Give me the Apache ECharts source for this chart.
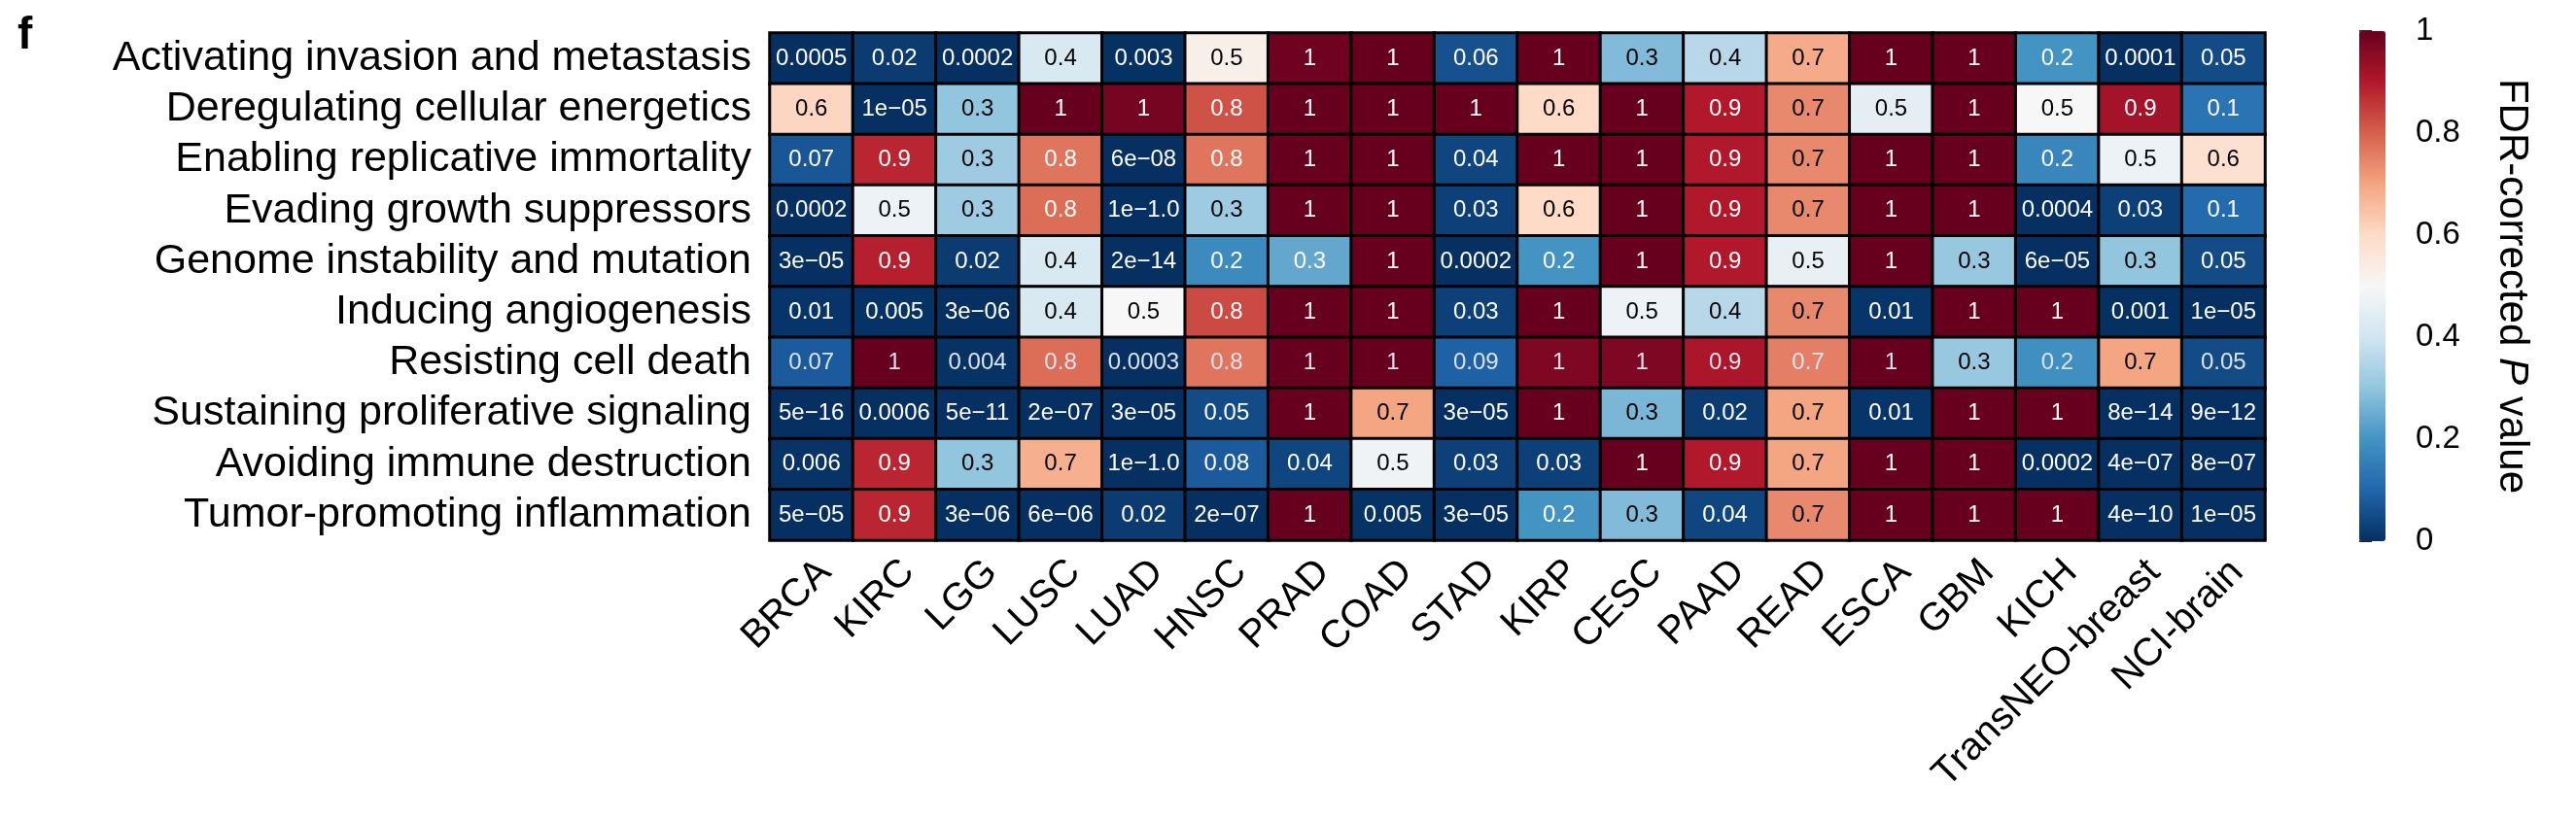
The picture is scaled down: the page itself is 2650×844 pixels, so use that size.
<!DOCTYPE html>
<html>
<head>
<meta charset="utf-8">
<script src="https://cdn.jsdelivr.net/npm/echarts@6/dist/echarts.min.js"></script>
<style>
  html, body { margin: 0; padding: 0; background: #fff; }
  #chart { width: 2650px; height: 844px; }
</style>
</head>
<body>
<div id="chart"></div>
<script>
// ---- categories ----
const cohorts = ['BRCA','KIRC','LGG','LUSC','LUAD','HNSC','PRAD','COAD','STAD','KIRP','CESC','PAAD','READ','ESCA','GBM','KICH','TransNEO-breast','NCI-brain'];
const hallmarks = ['Activating invasion and metastasis','Deregulating cellular energetics','Enabling replicative immortality','Evading growth suppressors','Genome instability and mutation','Inducing angiogenesis','Resisting cell death','Sustaining proliferative signaling','Avoiding immune destruction','Tumor-promoting inflammation'];

// ---- printed cell texts (as shown) ----
const invasionText   = ['0.0005','0.02','0.0002','0.4','0.003','0.5','1','1','0.06','1','0.3','0.4','0.7','1','1','0.2','0.0001','0.05'];
const energeticsText = ['0.6','1e−05','0.3','1','1','0.8','1','1','1','0.6','1','0.9','0.7','0.5','1','0.5','0.9','0.1'];
const immortalText   = ['0.07','0.9','0.3','0.8','6e−08','0.8','1','1','0.04','1','1','0.9','0.7','1','1','0.2','0.5','0.6'];
const suppressText   = ['0.0002','0.5','0.3','0.8','1e−1.0','0.3','1','1','0.03','0.6','1','0.9','0.7','1','1','0.0004','0.03','0.1'];
const genomeText     = ['3e−05','0.9','0.02','0.4','2e−14','0.2','0.3','1','0.0002','0.2','1','0.9','0.5','1','0.3','6e−05','0.3','0.05'];
const angioText      = ['0.01','0.005','3e−06','0.4','0.5','0.8','1','1','0.03','1','0.5','0.4','0.7','0.01','1','1','0.001','1e−05'];
const deathText      = ['0.07','1','0.004','0.8','0.0003','0.8','1','1','0.09','1','1','0.9','0.7','1','0.3','0.2','0.7','0.05'];
const prolifText     = ['5e−16','0.0006','5e−11','2e−07','3e−05','0.05','1','0.7','3e−05','1','0.3','0.02','0.7','0.01','1','1','8e−14','9e−12'];
const immuneText     = ['0.006','0.9','0.3','0.7','1e−1.0','0.08','0.04','0.5','0.03','0.03','1','0.9','0.7','1','1','0.0002','4e−07','8e−07'];
const inflamText     = ['5e−05','0.9','3e−06','6e−06','0.02','2e−07','1','0.005','3e−05','0.2','0.3','0.04','0.7','1','1','1','4e−10','1e−05'];

// ---- estimated FDR-corrected P values (colour) ----
const invasionP   = [0.0005,0.02,0.0002,0.42,0.003,0.53,0.99,1,0.06,1,0.28,0.36,0.69,1,1,0.2,0.0001,0.05];
const energeticsP = [0.61,1e-5,0.3,1,0.98,0.82,1,1,1,0.6,1,0.9,0.74,0.45,1,0.5,0.92,0.13];
const immortalP   = [0.07,0.88,0.32,0.77,6e-8,0.77,1,1,0.04,1,1,0.9,0.74,1,1,0.17,0.47,0.58];
const suppressP   = [0.0002,0.47,0.32,0.78,1e-10,0.32,1,1,0.03,0.6,1,0.9,0.74,1,1,0.0004,0.03,0.11];
const genomeP     = [3e-5,0.89,0.02,0.42,2e-14,0.18,0.24,1,0.0002,0.2,1,0.9,0.46,1,0.31,6e-5,0.3,0.05];
const angioP      = [0.01,0.005,3e-6,0.42,0.5,0.83,1,1,0.03,1,0.47,0.36,0.74,0.01,1,1,0.001,1e-5];
const deathP      = [0.08,1,0.004,0.78,0.0003,0.77,1,1,0.09,0.97,0.97,0.91,0.755,1,0.31,0.19,0.7,0.05];
const prolifP     = [5e-16,0.0006,5e-11,2e-7,3e-5,0.05,1,0.7,3e-5,1,0.27,0.02,0.7,0.01,1,1,8e-14,9e-12];
const immuneP     = [0.006,0.88,0.3,0.68,1e-10,0.08,0.04,0.48,0.03,0.03,1,0.9,0.7,1,1,0.0002,4e-7,8e-7];
const inflamP     = [5e-5,0.88,3e-6,6e-6,0.02,2e-7,1,0.005,3e-5,0.2,0.28,0.04,0.74,1,1,1,4e-10,1e-5];

const colorbarTicks = [0, 0.2, 0.4, 0.6, 0.8, 1];

const textRows  = [invasionText, energeticsText, immortalText, suppressText, genomeText, angioText, deathText, prolifText, immuneText, inflamText];
const valueRows = [invasionP, energeticsP, immortalP, suppressP, genomeP, angioP, deathP, prolifP, immuneP, inflamP];

const rdbuR = ['#053061','#2166ac','#4393c3','#92c5de','#d1e5f0','#f7f7f7','#fddbc7','#f4a582','#d6604d','#b2182b','#67001f'];
const FONT = '"Liberation Sans", Arial, Helvetica, sans-serif';

const cells = [];
valueRows.forEach((row, r) => {
  row.forEach((v, c) => {
    const light = v < 0.25 || v > 0.75;
    const col = light ? (r === 6 ? '#dbe2ee' : '#ffffff') : '#000000';
    cells.push({ value: [c, r, v], label: { color: col } });
  });
});

const GL = 792, GT = 34, GW = 1538, GH = 522;
const CBL = 2427, CBT = 32, CBW = 27, CBH = 525;

const chart = echarts.init(document.getElementById('chart'), null, { renderer: 'canvas' });
chart.setOption({
  animation: false,
  backgroundColor: '#ffffff',
  grid: [
    { left: GL, top: GT, width: GW, height: GH, outerBoundsMode: 'none', containLabel: false },
    { left: CBL, top: CBT, width: CBW, height: CBH, outerBoundsMode: 'none', containLabel: false }
  ],
  xAxis: [
    {
      type: 'category', gridIndex: 0, data: cohorts,
      axisLine: { show: false }, axisTick: { show: false }, splitLine: { show: false },
      axisLabel: {
        interval: 0, rotate: 45, fontSize: 40, color: '#000', fontFamily: FONT,
        margin: 41, padding: [0, -20, 0, 0]
      }
    },
    { type: 'value', gridIndex: 1, min: 0, max: 1, show: false }
  ],
  yAxis: [
    {
      type: 'category', gridIndex: 0, data: hallmarks, inverse: true,
      axisLine: { show: false }, axisTick: { show: false }, splitLine: { show: false },
      axisLabel: { interval: 0, fontSize: 43, color: '#000', fontFamily: FONT, margin: 19 }
    },
    {
      type: 'value', gridIndex: 1, min: colorbarTicks[0], max: colorbarTicks[colorbarTicks.length - 1],
      interval: colorbarTicks[1] - colorbarTicks[0], position: 'right',
      axisLine: { show: false },
      axisTick: { show: true, length: 13, lineStyle: { color: '#222', width: 2 } },
      splitLine: { show: false },
      axisLabel: { fontSize: 33, color: '#000', fontFamily: FONT, margin: 31 }
    }
  ],
  visualMap: {
    type: 'continuous', min: 0, max: 1, dimension: 2, seriesIndex: 0,
    calculable: false, realtime: false, hoverLink: false,
    left: CBL, top: CBT, itemWidth: CBW, itemHeight: CBH, padding: 0,
    orient: 'vertical', text: null, showLabel: false,
    inRange: { color: rdbuR }
  },
  series: [{
    type: 'heatmap', xAxisIndex: 0, yAxisIndex: 0,
    data: cells,
    itemStyle: { borderColor: '#000', borderWidth: 3 },
    emphasis: { disabled: true },
    label: {
      show: true, fontSize: 24, fontFamily: FONT,
      formatter: p => textRows[p.value[1]][p.value[0]]
    }
  }],
  graphic: [
    {
      type: 'text', left: 18, top: 14,
      style: { text: 'f', fontSize: 46, fontWeight: 'bold', fill: '#000', fontFamily: FONT }
    },
    {
      type: 'text', x: 2584, y: CBT + CBH / 2, rotation: -Math.PI / 2,
      style: {
        text: '{a|FDR-corrected }{p|P}{a| value}',
        align: 'center', verticalAlign: 'middle',
        rich: {
          a: { fontSize: 42, fontFamily: FONT, fill: '#000' },
          p: { fontSize: 42, fontFamily: FONT, fontStyle: 'italic', fill: '#000' }
        }
      }
    }
  ]
});
</script>
</body>
</html>
